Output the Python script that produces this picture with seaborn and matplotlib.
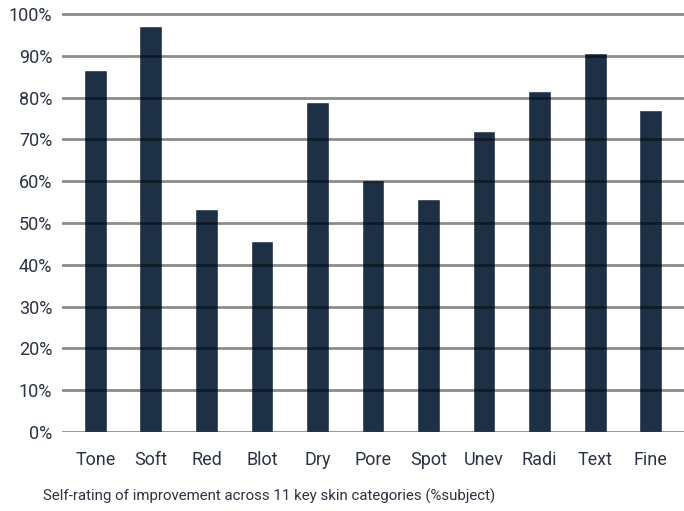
import pandas as pd
import seaborn as sns
import matplotlib.pyplot as plt
from matplotlib.ticker import PercentFormatter

categories = ["Tone", "Soft", "Red", "Blot", "Dry", "Pore", "Spot", "Unev", "Radi", "Text", "Fine"]
values = [0.867, 0.972, 0.534, 0.458, 0.789, 0.602, 0.557, 0.721, 0.815, 0.907, 0.770]

df = pd.DataFrame({"Category": categories, "Value": values})

sns.set_style("white")
plt.rcParams['font.family'] = ['Roboto', 'DejaVu Sans']

fig = plt.figure(figsize=(6.84, 5.11), dpi=100)
ax = fig.add_axes([62 / 684, 0.1546, 1 - 62 / 684, 0.8344])

sns.barplot(data=df, x="Category", y="Value", color="#1d3045", width=0.41, saturation=1, ax=ax)

ax.set_ylim(0, 1.02)
ax.set_xlim(-0.6, 10.6)
ax.set_yticks([i / 10 for i in range(11)])
ax.yaxis.set_major_formatter(PercentFormatter(1.0, decimals=0))
# black grid with alpha -> grey on white, darker over the bars
ax.grid(axis='y', color='black', linewidth=2, alpha=0.45)
ax.grid(axis='x', visible=False)
ax.set_axisbelow(False)
for s in ax.spines.values():
    s.set_visible(False)

text_color = "#2a3442"
ax.tick_params(axis='y', length=0, pad=7, labelsize=13, labelcolor=text_color)
ax.tick_params(axis='x', length=0, pad=14, labelsize=13, labelcolor=text_color)
ax.set_ylabel("")
ax.set_xlabel("")
fig.text(269 / 684, 1 - 496 / 511, "Self-rating of improvement across 11 key skin categories (%subject)",
         ha='center', va='center', fontsize=10.8, color=text_color)

fig.savefig("out.png", dpi=100)
